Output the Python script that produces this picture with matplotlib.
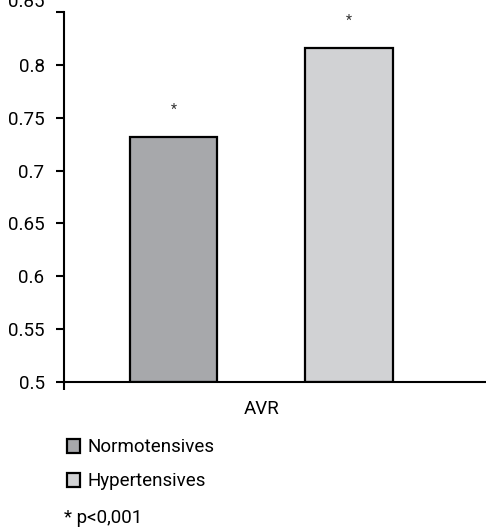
import matplotlib
matplotlib.use("Agg")
import matplotlib.pyplot as plt
from matplotlib.transforms import ScaledTranslation

groups = ["Normotensives", "Hypertensives"]
values = [0.732, 0.816]
colors = ["#a7a8ab", "#d1d2d4"]
category = "AVR"
yticks = [0.5, 0.55, 0.6, 0.65, 0.7, 0.75, 0.8, 0.85]
star_labels = ["*", "*"]
footnote = "* p<0,001"

plt.rcParams["font.family"] = ["Roboto", "DejaVu Sans"]

W, H = 486, 530
fig = plt.figure(figsize=(W / 100, H / 100), dpi=100)
ax = fig.add_axes([64 / W, 1 - 382 / H, 1 - 64 / W, (382 - 12) / H])

xs = list(range(len(values)))
bars = ax.bar(xs, [v - 0.5 for v in values], bottom=0.5, width=0.5,
              color=colors, edgecolor="black", linewidth=1.6, zorder=2)
for x, v, s in zip(xs, values, star_labels):
    ax.text(x, v + 0.0256, s, ha="center", va="center", fontsize=10, color="#333333")

ax.set_ylim(0.5, 0.85)
ax.set_xlim(-0.624, 1.78)
ax.set_yticks(yticks)
ax.set_yticklabels([f"{t:g}" for t in yticks])
ax.set_xticks([0.5])
ax.set_xticklabels([category])
ax.tick_params(axis="x", length=0, pad=13, labelsize=13.5)
ax.set_xticks([-0.624], minor=True)
ax.tick_params(axis="x", which="minor", length=6, width=1.5, direction="out")
ax.tick_params(axis="y", length=6, width=1.5, direction="out", labelsize=13.5, pad=8)
for side in ["top", "right"]:
    ax.spines[side].set_visible(False)
for side in ["left", "bottom"]:
    ax.spines[side].set_linewidth(1.5)

# the top label sits partly outside the picture in the reference
top_label = ax.get_yticklabels()[-1]
top_label.set_transform(top_label.get_transform() +
                        ScaledTranslation(0, 12 / 100, fig.dpi_scale_trans))

fig.legend(bars, groups, loc="upper left", bbox_to_anchor=(59 / W, 1 - 431 / H),
           frameon=False, fontsize=13.5, handlelength=0.72, handleheight=0.72,
           handletextpad=0.42, labelspacing=0.85, borderaxespad=0)
fig.text(64 / W, 1 - 518 / H, footnote, fontsize=13.5, va="center", ha="left")

fig.savefig("out.png", dpi=100)
